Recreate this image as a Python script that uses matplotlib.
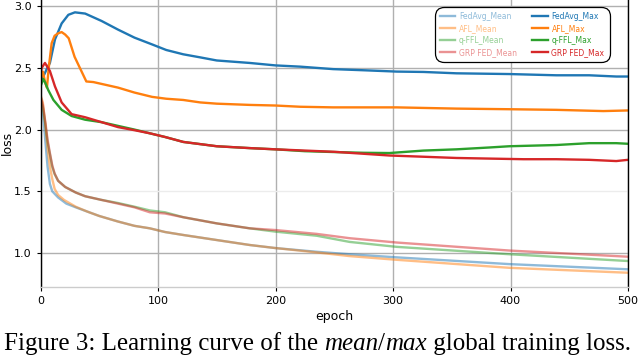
import matplotlib.pyplot as plt

# ---------------- data ----------------
fedavg_max_epoch = [0, 1, 2.4, 5.3, 8, 12.3, 18, 23.7, 29.3, 38, 52, 66, 80, 95, 107, 121.5, 136,
                    150, 164, 178, 200, 221, 249, 277, 303, 326, 354, 399, 439, 467, 490, 500]
fedavg_max = [2.38, 2.41, 2.43, 2.49, 2.54, 2.73, 2.86, 2.93, 2.95, 2.94, 2.88, 2.81, 2.745, 2.69,
              2.645, 2.61, 2.585, 2.56, 2.55, 2.54, 2.52, 2.51, 2.49, 2.48, 2.47, 2.467, 2.456,
              2.45, 2.44, 2.44, 2.43, 2.43]

afl_max_epoch = [0, 2, 4, 5.5, 7, 9.5, 12, 15, 18, 21, 24, 29, 35, 39, 45, 52, 66, 80, 95, 107,
                 121.5, 136, 150, 178, 200, 221, 249, 303, 354, 399, 439, 479, 500]
afl_max = [2.40, 2.47, 2.38, 2.34, 2.50, 2.70, 2.76, 2.78, 2.79, 2.77, 2.74, 2.59, 2.47, 2.39,
           2.385, 2.37, 2.34, 2.30, 2.265, 2.25, 2.24, 2.22, 2.21, 2.20, 2.195, 2.185, 2.18,
           2.18, 2.17, 2.165, 2.16, 2.15, 2.155]

qffl_max_epoch = [0, 2.4, 4, 6.6, 11, 18, 26.5, 38, 52, 66, 80, 93, 106, 121.5, 150, 178, 200,
                  225, 250, 275, 297, 326, 354, 382, 399, 439, 467, 490, 500]
qffl_max = [2.35, 2.41, 2.38, 2.32, 2.24, 2.16, 2.11, 2.08, 2.06, 2.03, 2.00, 1.97, 1.94, 1.90,
            1.865, 1.85, 1.84, 1.825, 1.818, 1.812, 1.81, 1.83, 1.84, 1.855, 1.865, 1.875, 1.89,
            1.89, 1.885]

grp_max_epoch = [0, 1, 3.8, 8, 12.3, 18, 26.5, 38, 52, 66, 80, 93, 106, 121.5, 150, 178, 200,
                 250, 297, 326, 354, 382, 411, 439, 467, 490, 500]
grp_max = [2.45, 2.50, 2.54, 2.475, 2.35, 2.22, 2.125, 2.10, 2.06, 2.02, 1.995, 1.97, 1.94, 1.90,
           1.865, 1.85, 1.84, 1.82, 1.79, 1.78, 1.77, 1.765, 1.76, 1.76, 1.755, 1.745, 1.755]

fedavg_mean_epoch = [0, 2, 4, 6, 8, 10, 15, 22, 30, 40, 50, 66, 80, 93, 106, 121.5, 150, 178,
                     200, 235, 263, 303, 399, 500]
fedavg_mean = [2.28, 2.15, 1.92, 1.70, 1.56, 1.50, 1.45, 1.40, 1.37, 1.335, 1.30, 1.255, 1.22,
               1.20, 1.17, 1.146, 1.105, 1.065, 1.04, 1.01, 0.99, 0.965, 0.91, 0.868]

afl_mean_epoch = [0, 2, 4, 6, 8, 10, 12, 15, 20, 30, 40, 50, 66, 80, 93, 106, 121.5, 150, 178,
                  200, 235, 263, 303, 399, 500]
afl_mean = [2.28, 2.22, 2.05, 1.85, 1.70, 1.60, 1.52, 1.47, 1.43, 1.375, 1.335, 1.30, 1.255,
            1.22, 1.20, 1.17, 1.146, 1.105, 1.065, 1.04, 1.005, 0.975, 0.945, 0.88, 0.84]

qffl_mean_epoch = [0, 2, 4, 6, 8, 10, 12, 15, 21, 30, 38, 52, 66, 80, 93, 106, 121.5, 150, 178,
                   200, 235, 263, 303, 399, 500]
qffl_mean = [2.25, 2.18, 2.05, 1.90, 1.80, 1.70, 1.64, 1.585, 1.535, 1.49, 1.46, 1.43, 1.405,
             1.375, 1.345, 1.33, 1.29, 1.24, 1.20, 1.173, 1.14, 1.09, 1.05, 0.99, 0.935]

grp_mean_epoch = qffl_mean_epoch
grp_mean = [2.27, 2.20, 2.07, 1.92, 1.81, 1.71, 1.645, 1.585, 1.535, 1.49, 1.46, 1.43, 1.40,
            1.37, 1.33, 1.32, 1.29, 1.24, 1.20, 1.186, 1.155, 1.12, 1.085, 1.02, 0.97]

x_ticks = [0, 100, 200, 300, 400, 500]
y_ticks = [1.0, 1.5, 2.0, 2.5, 3.0]

# ---------------- figure ----------------
W, H = 638, 356
fig = plt.figure(figsize=(W / 100, H / 100), dpi=100)
ax = fig.add_axes([40.5 / W, 1 - 286.7 / H, 587.5 / W, 286.7 / H])

blue, orange, green, red = '#1f77b4', '#ff7f0e', '#2ca02c', '#d62728'
lw = 1.7
mean_alpha = 0.5

lines = []
lines.append(ax.plot(fedavg_mean_epoch, fedavg_mean, color=blue, alpha=mean_alpha, lw=lw, label='FedAvg_Mean')[0])
lines.append(ax.plot(afl_mean_epoch, afl_mean, color=orange, alpha=mean_alpha, lw=lw, label='AFL_Mean')[0])
lines.append(ax.plot(qffl_mean_epoch, qffl_mean, color=green, alpha=mean_alpha, lw=lw, label='q-FFL_Mean')[0])
lines.append(ax.plot(grp_mean_epoch, grp_mean, color=red, alpha=mean_alpha, lw=lw, label='GRP FED_Mean')[0])
lines.append(ax.plot(fedavg_max_epoch, fedavg_max, color=blue, lw=lw, label='FedAvg_Max')[0])
lines.append(ax.plot(afl_max_epoch, afl_max, color=orange, lw=lw, label='AFL_Max')[0])
lines.append(ax.plot(qffl_max_epoch, qffl_max, color=green, lw=lw, label='q-FFL_Max')[0])
lines.append(ax.plot(grp_max_epoch, grp_max, color=red, lw=lw, label='GRP FED_Max')[0])

ax.set_xlim(0, 500)
ax.set_ylim(0.727, 3.05)
ax.set_xticks(x_ticks)
ax.set_yticks(y_ticks)
ax.tick_params(labelsize=8, length=3, width=0.8, color='black')
ax.grid(True, color='#b0b0b0', lw=1.0)
ax.set_axisbelow(True)
gl = ax.get_ygridlines()
gl[1].set_color('#ececec')
ax.set_xlabel('epoch', fontsize=9, labelpad=3)
ax.set_ylabel('loss', fontsize=9)
ax.yaxis.set_label_coords(-0.046, 0.5)
ax.spines['top'].set_visible(False)
ax.spines['bottom'].set_color('#cccccc')
ax.spines['left'].set_color('black')
ax.spines['right'].set_color('black')
for s in ['left', 'right', 'bottom']:
    ax.spines[s].set_linewidth(1.0)

leg = ax.legend(handles=lines, ncol=2, loc='upper right', bbox_to_anchor=(0.969, 0.977),
                borderaxespad=0, fontsize=5.5, frameon=True, fancybox=True,
                edgecolor='black', framealpha=1, handlelength=2.0, columnspacing=2.0,
                labelspacing=0.4, borderpad=0.7, handletextpad=0.5)
leg.get_frame().set_linewidth(0.9)
leg.get_frame().set_boxstyle('round', pad=0.0, rounding_size=1.2)
for t, l in zip(leg.get_texts(), lines):
    t.set_color(l.get_color())
    t.set_alpha(l.get_alpha() if l.get_alpha() is not None else 1)

# ---------------- caption ----------------
cap_kw = dict(fontsize=18, family='Liberation Serif', va='baseline')
t1 = fig.text(4 / W, 1 - 350 / H, 'Figure 3: Learning curve of the ', **cap_kw)
t2 = fig.text(0, 0, 'mean', style='italic', **cap_kw)
t3 = fig.text(0, 0, '/', **cap_kw)
t4 = fig.text(0, 0, 'max', style='italic', **cap_kw)
t5 = fig.text(0, 0, ' global training loss.', **cap_kw)
fig.canvas.draw()
r = fig.canvas.get_renderer()
prev = t1
for t in [t2, t3, t4, t5]:
    bb = prev.get_window_extent(r)
    x0 = bb.x1 / fig.bbox.width
    t.set_position((x0, prev.get_position()[1]))
    fig.canvas.draw()
    prev = t

fig.savefig('out.png', dpi=100)
